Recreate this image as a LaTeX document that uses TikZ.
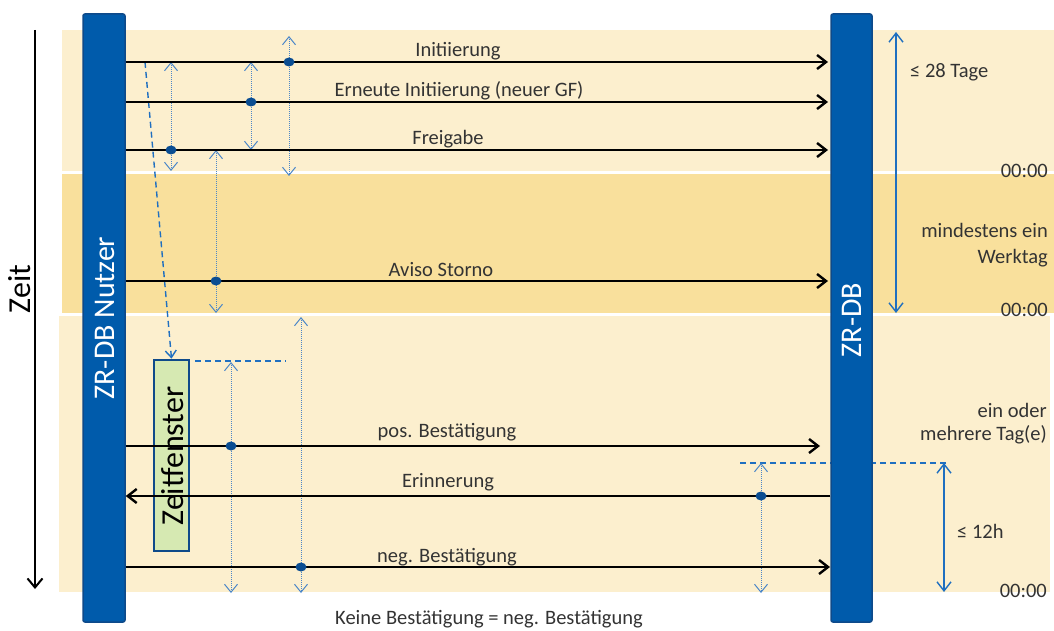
\documentclass[tikz,border=0pt]{standalone}
\usepackage{fontspec}
\setmainfont{Carlito}
\usetikzlibrary{arrows.meta,shapes.geometric}
\definecolor{bandA}{RGB}{252,239,206}
\definecolor{bandB}{RGB}{249,224,156}
\definecolor{barblue}{RGB}{0,91,171}
\definecolor{barborder}{RGB}{14,74,138}
\definecolor{dotblue}{RGB}{10,77,146}
\definecolor{lightblue}{RGB}{74,134,200}
\definecolor{midblue}{RGB}{31,111,192}
\definecolor{txt}{RGB}{51,51,51}
\definecolor{zfgreen}{RGB}{214,233,178}
\pgfdeclarelayer{bg}
\pgfsetlayers{bg,main}
\begin{document}
\begin{tikzpicture}[x=1pt,y=-1pt,
  lbl/.style={font=\fontsize{20.5}{24}\selectfont, text=txt, inner sep=0pt, anchor=base},
  rlbl/.style={font=\fontsize{20.5}{24}\selectfont, text=txt, inner sep=0pt, anchor=base east},
  bar/.style={draw=barborder, line width=1.5pt, fill=barblue, rounded corners=2pt, inner sep=0pt},
  bartext/.style={font=\fontsize{30}{35}\selectfont, text=white, inner sep=0pt, rotate=90},
  msg/.style={draw=black, line width=2.4pt, -{Straight Barb[length=9pt,width=14pt]}},
  dotarrow/.style={draw=lightblue, line width=1pt, densely dotted, {Straight Barb[length=8pt,width=13pt]}-{Straight Barb[length=8pt,width=13pt]}},
  spanarrow/.style={draw=midblue, line width=1.4pt, {Straight Barb[length=9pt,width=14pt]}-{Straight Barb[length=9pt,width=14pt]}},
  dashline/.style={draw=midblue, line width=1.4pt, dash pattern=on 6pt off 4pt},
  msgdot/.style={shape=ellipse, fill=dotblue, inner sep=0pt, minimum width=11pt, minimum height=9pt},
]
\useasboundingbox (0,0) rectangle (1054,631);

% background bands
\begin{pgfonlayer}{bg}
\fill[bandA] (62,30) rectangle (1054,171);
\fill[bandB] (62,174) rectangle (1054,313);
\fill[bandA] (59,316) rectangle (1050,592);
\coordinate (h12a) at (740,463);
\coordinate (h12b) at (947,463);
\draw[dashline] (h12a) -- (h12b);
\end{pgfonlayer}

% time axis
\coordinate (zt) at (35,30);
\coordinate (zb) at (35,589);
\draw[black, line width=2pt, -{Straight Barb[length=9pt,width=15pt]}] (zt) -- (zb);
\node[font=\fontsize{32}{38}\selectfont, text=black, inner sep=0pt, rotate=90] (zeit) at (20,289) {Zeit};

% lifelines
\node[bar, minimum width=42pt, minimum height=608pt] (nutzer) at (104,318) {};
\node[bar, minimum width=41pt, minimum height=608pt] (zrdb) at (851.5,318) {};
\node[bartext] (nutzerlbl) at (105,318) {ZR-DB Nutzer};
\node[bartext] (zrdblbl) at (852,320) {ZR-DB};

% Zeitfenster
\node[draw=barborder, line width=2.8pt, fill=zfgreen, minimum width=35pt, minimum height=191pt, inner sep=0pt] (zf) at (171.5,455.5) {};
\node[font=\fontsize{32}{38}\selectfont, text=black, inner sep=0pt, rotate=90] (zflbl) at (173,456) {Zeitfenster};

% dashed helper lines
\coordinate (ds) at (145,62);
\draw[dashline, -{Straight Barb[length=7pt,width=11pt]}] (ds) -- (zf.north);
\coordinate (hzA) at (195,361);
\coordinate (hzB) at (286,361);
\draw[dashline] (hzA) -- (hzB);

% dotted double arrows
\coordinate (v1t) at (289,36);  \coordinate (v1b) at (289,176);
\coordinate (v2t) at (251,62);  \coordinate (v2b) at (251,150);
\coordinate (v3t) at (171,62);  \coordinate (v3b) at (171,171);
\coordinate (v4t) at (216,150); \coordinate (v4b) at (216,313);
\coordinate (v5t) at (301,317); \coordinate (v5b) at (301,593);
\coordinate (v6t) at (231,362); \coordinate (v6b) at (231,593);
\coordinate (v7t) at (761,463); \coordinate (v7b) at (761,593);
\foreach \a in {1,...,7} {\draw[dotarrow] (v\a t) -- (v\a b);}

% messages
\coordinate (m1e) at (828,62);
\coordinate (m2e) at (828,102);
\coordinate (m3e) at (828,150);
\coordinate (m4e) at (828,281);
\coordinate (m5e) at (820,446);
\coordinate (m7e) at (830,567);
\draw[msg] (nutzer.east |- 0,62) -- (m1e);
\draw[msg] (nutzer.east |- 0,102) -- (m2e);
\draw[msg] (nutzer.east |- 0,150) -- (m3e);
\draw[msg] (nutzer.east |- 0,281) -- (m4e);
\draw[msg] (nutzer.east |- 0,446) -- (m5e);
\draw[msg] (zrdb.west |- 0,496) -- (nutzer.east |- 0,496);
\draw[msg] (nutzer.east |- 0,567) -- (m7e);

% dots
\node[msgdot] (p1) at (289,62) {};
\node[msgdot] (p2) at (251,102) {};
\node[msgdot] (p3) at (171,150) {};
\node[msgdot] (p4) at (216,281) {};
\node[msgdot] (p5) at (231,446) {};
\node[msgdot] (p6) at (761,496) {};
\node[msgdot] (p7) at (301,567) {};

% message labels
\node[lbl] (l1) at (458,57) {Initiierung};
\node[lbl] (l2) at (459,97) {Erneute Initiierung (neuer GF)};
\node[lbl] (l3) at (448,145) {Freigabe};
\node[lbl] (l4) at (441,276) {Aviso Storno};
\node[lbl] (l5) at (447,437) {pos. Bestätigung};
\node[lbl] (l6) at (448,487) {Erinnerung};
\node[lbl] (l7) at (447,562) {neg. Bestätigung};
\node[lbl] (note) at (489,624) {Keine Bestätigung = neg. Bestätigung};

% right side spans
\coordinate (s1t) at (896,32); \coordinate (s1b) at (896,313);
\draw[spanarrow] (s1t) -- (s1b);
\coordinate (s2t) at (944,463); \coordinate (s2b) at (944,592);
\draw[spanarrow] (s2t) -- (s2b);

\node[lbl, anchor=base west] (t28) at (910,78) {≤ 28 Tage};
\node[rlbl] (z1) at (1048,178) {00:00};
\node[rlbl] (we1) at (1048,237) {mindestens ein};
\node[rlbl] (we2) at (1048,263) {Werktag};
\node[rlbl] (z2) at (1048,316) {00:00};
\node[rlbl] (md1) at (1047,417) {ein oder};
\node[rlbl] (md2) at (1047,440) {mehrere Tag(e)};
\node[lbl, anchor=base west] (t12) at (957,538) {≤ 12h};
\node[rlbl] (z3) at (1047,597) {00:00};
\end{tikzpicture}
\end{document}
